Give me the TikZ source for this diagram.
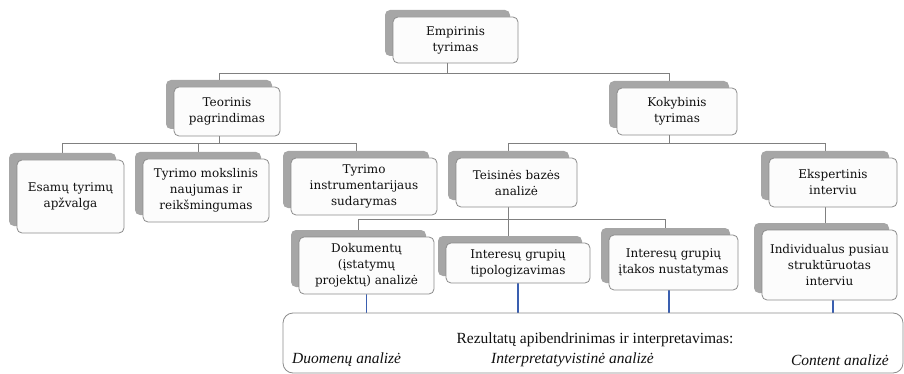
\documentclass[tikz,border=0pt]{standalone}
\usepackage{fontspec}
\setmainfont{DejaVu Serif}
\newfontfamily\notefont{Liberation Serif}
\pgfdeclarelayer{background}
\pgfsetlayers{background,main}
\definecolor{shadowgray}{HTML}{A6A6A6}
\definecolor{framegray}{HTML}{8C8C8C}
\definecolor{linkgray}{HTML}{808080}
\definecolor{feedblue}{HTML}{3A5FB0}
\definecolor{inkdark}{HTML}{101010}
\definecolor{paper}{HTML}{FCFCFC}
% a white rounded box with a grey copy behind it, up and to the left
\newcommand\stackbox[6]{%
  \node[shade box, minimum width=#4pt, minimum height=#5pt] (#1s) at (#2-8,#3-7) {};
  \node[front box, minimum width=#4pt, minimum height=#5pt] (#1) at (#2,#3) {#6};}
\begin{document}
\begin{tikzpicture}[x=1pt,y=-1pt,
  shade box/.style={fill=shadowgray, draw=none, rounded corners=5pt, inner sep=0pt},
  front box/.style={fill=paper, draw=framegray, line width=0.8pt, rounded corners=5pt,
    align=center, inner sep=0pt, text=inkdark, font=\fontsize{12}{16}\selectfont},
  link/.style={draw=linkgray, line width=0.9pt},
  feed/.style={draw=feedblue, line width=1.2pt},
  result box/.style={fill=white, draw=framegray, line width=0.8pt, rounded corners=10pt, inner sep=0pt},
  note/.style={text=inkdark, inner sep=0pt, font=\notefont\fontsize{15.5}{18}\selectfont}]
\useasboundingbox (0,0) rectangle (904,374);

% levels of the horizontal connector runs
\coordinate (lvlA) at (0,73);
\coordinate (lvlB) at (0,143);
\coordinate (lvlC) at (0,219);

\stackbox{E}{455.5}{40}{125}{46}{Empirinis\\tyrimas}
\stackbox{T}{227}{111.5}{106}{49}{Teorinis\\pagrindimas}
\stackbox{K}{677}{111.5}{120}{47}{Kokybinis\\tyrimas}
\stackbox{A}{70.5}{196.5}{107}{73}{Esamų tyrimų\\apžvalga}
\stackbox{M}{206}{190.5}{126}{63}{Tyrimo mokslinis\\naujumas ir\\reikšmingumas}
\stackbox{I}{364}{186.5}{146}{57}{Tyrimo\\instrumentarijaus\\sudarymas}
\stackbox{B}{516.5}{182.5}{121}{49}{Teisinės bazės\\analizė}
\stackbox{X}{833}{182.5}{128}{49}{Ekspertinis\\interviu}
\stackbox{D}{366.5}{265.5}{135}{57}{Dokumentų\\(įstatymų\\projektų) analizė}
\stackbox{P}{518}{263}{144}{40}{Interesų grupių\\tipologizavimas}
\stackbox{Q}{673.5}{262.5}{129}{55}{Interesų grupių\\įtakos nustatymas}
\stackbox{N}{829.5}{265}{135}{70}{Individualus pusiau\\struktūruotas\\interviu}

% summary frame at the foot
\node[result box, minimum width=620pt, minimum height=60pt] (R) at (593,343) {};
\node[note] (Rt) at (595,340) {Rezultatų apibendrinimas ir interpretavimas:};
\node[note, anchor=west] (R1) at (292,360) {\itshape Duomenų analizė};
\node[note, anchor=west] (R2) at (491,360) {\itshape Interpretatyvistinė analizė};
\node[note, anchor=east] (R3) at (889,360) {\itshape Content analizė};

% feet of the blue feeder lines under the lowest row
\coordinate (fD) at (D.center);
\coordinate (fP) at (P.center);
\coordinate (fQ) at ([xshift=-4.5pt]Q.center);
\coordinate (fN) at ([xshift=3.5pt]N.center);

\begin{pgfonlayer}{background}
  \draw[link] (Es.center) -- (Es.center |- lvlA);
  \draw[link] (Ts.center) |- (Ks.center |- lvlA) -- (Ks.center);
  \draw[link] (Ts.center) -- (Ts.center |- lvlB);
  \draw[link] (As.center) |- (Is.center |- lvlB) -- (Is.center);
  \draw[link] (Ms.center) -- (Ms.center |- lvlB);
  \draw[link] (Ks.center) -- (Ks.center |- lvlB);
  \draw[link] (Bs.center) |- (Xs.center |- lvlB) -- (Xs.center);
  \draw[link] (Bs.center) -- (Bs.center |- Ps.center);
  \draw[link] (Ds.center) |- (Qs.center |- lvlC) -- (Qs.center);
  \draw[link] (Xs.center) -- (Xs.center |- Ns.center);
  \draw[feed] (fD) -- (fD |- R.north);
  \draw[feed] (fP) -- (fP |- R.north);
  \draw[feed] (fQ) -- (fQ |- R.north);
  \draw[feed] (fN) -- (fN |- R.north);
\end{pgfonlayer}
\end{tikzpicture}
\end{document}
